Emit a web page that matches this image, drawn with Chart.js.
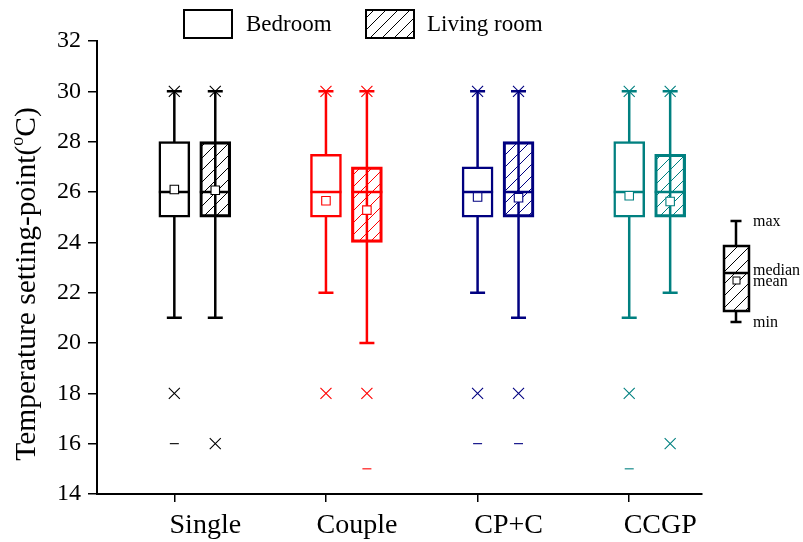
<!DOCTYPE html>
<html>
<head>
<meta charset="utf-8">
<script src="https://cdn.jsdelivr.net/npm/chart.js@4/dist/chart.umd.min.js"></script>
<style>
  html, body { margin: 0; padding: 0; background: #fff; }
  #wrap { width: 803px; height: 542px; position: relative; }
</style>
</head>
<body>
<div id="wrap"><canvas id="c" width="803" height="542"></canvas></div>
<script>
// Household types on the x axis and the colour used for each group
const categories = ['Single', 'Couple', 'CP+C', 'CCGP'];
const groupColors = ['#000000', '#ff0000', '#000080', '#008080'];
const yTicks = [14, 16, 18, 20, 22, 24, 26, 28, 30, 32];

// Bedroom set-point statistics (°C)
const bedMin    = [16, null, 16, 15];      // minimum (dash)
const bedP1     = [18, 18, 18, 18];        // 1st percentile (x)
const bedLow    = [21, 22, 22, 21];        // lower whisker
const bedQ1     = [25, 25, 25, 25];
const bedMedian = [26, 26, 26, 26];
const bedQ3     = [28, 27.5, 27, 28];
const bedHigh   = [30, 30, 30, 30];        // upper whisker
const bedP99    = [30, 30, 30, 30];        // 99th percentile (x)
const bedMean   = [26.1, 25.65, 25.8, 25.85];

// Living room set-point statistics (°C)
const livMin    = [null, 15, 16, null];
const livP1     = [16, 18, 18, 16];
const livLow    = [21, 20, 21, 22];
const livQ1     = [25, 24, 25, 25];
const livMedian = [26, 26, 26, 26];
const livQ3     = [28, 27, 28, 27.5];
const livHigh   = [30, 30, 30, 30];
const livP99    = [30, 30, 30, 30];
const livMean   = [26.07, 25.28, 25.77, 25.62];

// Layout / style constants
const PAIR_GAP = 0.27;     // living-room box sits this far right of the bedroom box (x units)
const BOX_W = 31;
const CAP_W = 15;
const LINE_W = 2.5;
const SERIF = "'Liberation Serif', 'Times New Roman', serif";

function hatch(color) {
  const s = 12;
  const cv = document.createElement('canvas');
  cv.width = s; cv.height = s;
  const g = cv.getContext('2d');
  g.strokeStyle = color;
  g.lineWidth = 1;
  g.beginPath();
  g.moveTo(0, s); g.lineTo(s, 0);
  g.moveTo(-2, 2); g.lineTo(2, -2);
  g.moveTo(s - 2, s + 2); g.lineTo(s + 2, s - 2);
  g.stroke();
  return g.createPattern(cv, 'repeat');
}

const series = [
  { label: 'Bedroom', off: 0, hatched: false,
    min: bedMin, p1: bedP1, low: bedLow, q1: bedQ1, med: bedMedian, q3: bedQ3, high: bedHigh, p99: bedP99, mean: bedMean },
  { label: 'Living room', off: PAIR_GAP, hatched: true,
    min: livMin, p1: livP1, low: livLow, q1: livQ1, med: livMedian, q3: livQ3, high: livHigh, p99: livP99, mean: livMean }
];

const xOf = (s, i) => i + 1 + s.off;

// Boxes: floating bars from Q1 to Q3
const boxSets = series.map(s => ({
  type: 'bar',
  label: s.label,
  data: categories.map((c, i) => ({ x: xOf(s, i), y: [s.q1[i], s.q3[i]] })),
  backgroundColor: groupColors.map(col => s.hatched ? hatch(col) : '#ffffff'),
  borderColor: groupColors,
  borderWidth: LINE_W,
  borderSkipped: false,
  barThickness: BOX_W,
  grouped: false,
  order: 2,
  _stats: s
}));

// Point markers built from the statistics arrays
function markerSet(key, style, radius, fill) {
  const data = [], colors = [];
  series.forEach(s => {
    categories.forEach((c, i) => {
      const v = s[key][i];
      if (v === null || v === undefined) return;
      data.push({ x: xOf(s, i), y: v });
      colors.push(groupColors[i]);
    });
  });
  return {
    type: 'scatter',
    label: key,
    data,
    pointStyle: style,
    pointRadius: radius,
    pointHoverRadius: radius,
    pointBorderColor: colors,
    pointBackgroundColor: fill ? fill : colors,
    pointBorderWidth: 1.1,
    order: 1
  };
}

const datasets = [
  ...boxSets,
  markerSet('p1', 'crossRot', 7.8),
  markerSet('p99', 'crossRot', 7.8),
  markerSet('min', 'line', 4.5),
  markerSet('mean', 'rect', 6, '#ffffff')
];

// Whiskers, caps and median lines drawn on the chart's own scales
const boxPlotPlugin = {
  id: 'boxPlot',
  beforeDatasetsDraw(chart) {
    const ctx = chart.ctx, xs = chart.scales.x, ys = chart.scales.y;
    ctx.save();
    ctx.lineWidth = LINE_W;
    series.forEach(s => {
      categories.forEach((c, i) => {
        const px = xs.getPixelForValue(xOf(s, i));
        const yLow = ys.getPixelForValue(s.low[i]);
        const yHigh = ys.getPixelForValue(s.high[i]);
        ctx.strokeStyle = groupColors[i];
        ctx.beginPath();
        ctx.moveTo(px, yLow); ctx.lineTo(px, yHigh);
        ctx.moveTo(px - CAP_W / 2, yLow); ctx.lineTo(px + CAP_W / 2, yLow);
        ctx.moveTo(px - CAP_W / 2, yHigh); ctx.lineTo(px + CAP_W / 2, yHigh);
        ctx.stroke();
      });
    });
    ctx.restore();
  },
  afterDatasetDraw(chart, args) {
    const ds = chart.data.datasets[args.index];
    if (!ds._stats) return;
    const s = ds._stats;
    const ctx = chart.ctx, xs = chart.scales.x, ys = chart.scales.y;
    ctx.save();
    ctx.lineWidth = LINE_W;
    categories.forEach((c, i) => {
      const px = xs.getPixelForValue(xOf(s, i));
      const py = ys.getPixelForValue(s.med[i]);
      ctx.strokeStyle = groupColors[i];
      ctx.beginPath();
      ctx.moveTo(px - BOX_W / 2, py); ctx.lineTo(px + BOX_W / 2, py);
      ctx.stroke();
    });
    ctx.restore();
  },
  afterDraw(chart) {
    const ctx = chart.ctx;
    ctx.save();
    // Legend across the top
    ctx.lineWidth = 2;
    ctx.strokeStyle = '#000';
    ctx.fillStyle = '#fff';
    ctx.fillRect(184, 10, 48, 28);
    ctx.strokeRect(184, 10, 48, 28);
    ctx.fillStyle = hatch('#000');
    ctx.fillRect(366, 10, 48, 28);
    ctx.strokeRect(366, 10, 48, 28);
    ctx.fillStyle = '#000';
    ctx.font = '23px ' + SERIF;
    ctx.textBaseline = 'alphabetic';
    ctx.textAlign = 'left';
    ctx.fillText('Bedroom', 246, 31);
    ctx.fillText('Living room', 427, 31);

    // Key explaining the box symbols
    const kx = 736;
    ctx.lineWidth = 2.5;
    ctx.beginPath();
    ctx.moveTo(kx, 221); ctx.lineTo(kx, 246);
    ctx.moveTo(kx - 5.5, 221); ctx.lineTo(kx + 5.5, 221);
    ctx.moveTo(kx, 311); ctx.lineTo(kx, 322);
    ctx.moveTo(kx - 5.5, 322); ctx.lineTo(kx + 5.5, 322);
    ctx.stroke();
    ctx.fillStyle = hatch('#000');
    ctx.fillRect(724, 246, 25, 65);
    ctx.strokeRect(724, 246, 25, 65);
    ctx.beginPath();
    ctx.moveTo(724, 273); ctx.lineTo(749, 273);
    ctx.stroke();
    ctx.lineWidth = 1;
    ctx.fillStyle = '#fff';
    ctx.fillRect(733, 277, 7, 7);
    ctx.strokeRect(733, 277, 7, 7);
    ctx.fillStyle = '#000';
    ctx.font = '16px ' + SERIF;
    ctx.fillText('max', 753, 226);
    ctx.fillText('median', 753, 275);
    ctx.fillText('mean', 753, 286);
    ctx.fillText('min', 753, 327);

    // Y axis title with superscript degree "o"
    const main = 'Temperature setting-point(';
    const sup = 'o';
    const tail = 'C)';
    ctx.font = '29.5px ' + SERIF;
    const w1 = ctx.measureText(main).width;
    const w3 = ctx.measureText(tail).width;
    ctx.font = '18px ' + SERIF;
    const w2 = ctx.measureText(sup).width;
    const total = w1 + w2 + w3;
    ctx.translate(35, 284);
    ctx.rotate(-Math.PI / 2);
    let tx = -total / 2;
    ctx.font = '29.5px ' + SERIF;
    ctx.fillText(main, tx, 0);
    tx += w1;
    ctx.font = '18px ' + SERIF;
    ctx.fillText(sup, tx, -12);
    tx += w2;
    ctx.font = '29.5px ' + SERIF;
    ctx.fillText(tail, tx, 0);
    ctx.restore();
  }
};

new Chart(document.getElementById('c'), {
  type: 'bar',
  data: { datasets },
  options: {
    responsive: false,
    animation: false,
    events: [],
    layout: { padding: { left: 0, top: 41, right: 101, bottom: 0 } },
    plugins: { legend: { display: false }, tooltip: { enabled: false } },
    scales: {
      x: {
        type: 'linear',
        min: 0.49,
        max: 4.48,
        offset: false,
        afterBuildTicks: scale => { scale.ticks = categories.map((c, i) => ({ value: i + 1 })); },
        afterFit: scale => { scale.height = 48; },
        grid: { display: true, offset: false, drawOnChartArea: false, drawTicks: true, tickLength: 8, color: '#000', lineWidth: 1.5 },
        border: { display: true, color: '#000', width: 2 },
        ticks: {
          autoSkip: false,
          maxRotation: 0,
          labelOffset: 31,
          padding: 7,
          color: '#000',
          font: { family: SERIF, size: 28 },
          callback: v => categories[Math.round(v) - 1]
        }
      },
      y: {
        type: 'linear',
        min: 14,
        max: 32,
        afterBuildTicks: scale => { scale.ticks = yTicks.map(v => ({ value: v })); },
        afterFit: scale => { scale.width = 97; },
        grid: { display: true, drawOnChartArea: false, drawTicks: true, tickLength: 9, color: '#000', lineWidth: 1.5 },
        border: { display: true, color: '#000', width: 2 },
        ticks: {
          padding: 7,
          color: '#000',
          font: { family: SERIF, size: 24 }
        }
      }
    }
  },
  plugins: [boxPlotPlugin]
});
</script>
</body>
</html>
